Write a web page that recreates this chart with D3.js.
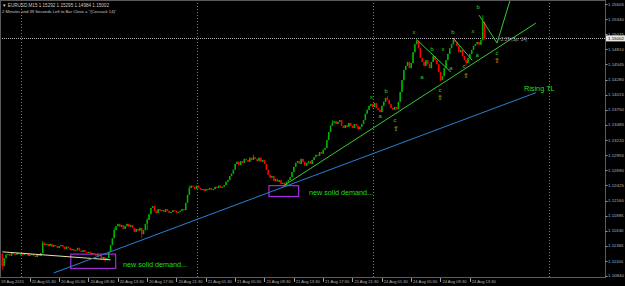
<!DOCTYPE html>
<html>
<head>
<meta charset="utf-8">
<script src="https://cdn.jsdelivr.net/npm/d3@7"></script>
<style>
  body { margin: 0; background: #000; }
  svg { display: block; }
  text { font-family: "Liberation Sans", Arial, sans-serif; }
</style>
</head>
<body>
<svg id="chart"></svg>
<script>
// EURUSD M15 closes, one per bar, bar 0 = 20 Aug 00:00
var firstBar = -10;
var firstOpen = 1.1122;
var closes = [
  1.1101, 1.1115, 1.1121, 1.1122, 1.1119, 1.1124, 1.1122, 1.1121, 1.1124, 1.1122,
  1.1122, 1.1121, 1.1124, 1.1122, 1.1119, 1.1121, 1.1122, 1.1119, 1.1117, 1.1121, 1.1119,
  1.1124, 1.1142, 1.1138, 1.1140,
  1.1136, 1.1140, 1.1135, 1.1138, 1.1136, 1.1133, 1.1136, 1.1138, 1.1135, 1.1131, 1.1135,
  1.1133, 1.1129, 1.1131, 1.1128, 1.1129, 1.1133, 1.1128, 1.1126, 1.1129, 1.1126, 1.1124,
  1.1126, 1.1122, 1.1124, 1.1121, 1.1119, 1.1122, 1.1119,
  1.1114, 1.1117, 1.1112, 1.1115, 1.1126,
  1.1138, 1.1150, 1.1164, 1.1171,
  1.1175, 1.1170, 1.1173, 1.1166, 1.1171, 1.1175, 1.1170, 1.1173, 1.1168, 1.1161,
  1.1166, 1.1163, 1.1168, 1.1157, 1.1164, 1.1175, 1.1182,
  1.1192, 1.1203, 1.1206, 1.1198, 1.1194, 1.1201, 1.1198,
  1.1199, 1.1196, 1.1201, 1.1198, 1.1194, 1.1196, 1.1199, 1.1198, 1.1194, 1.1196, 1.1198, 1.1201, 1.1199,
  1.1212, 1.1226, 1.1238, 1.1242,
  1.1240, 1.1236, 1.1242, 1.1238, 1.1235, 1.1236, 1.1233, 1.1236,
  1.1235, 1.1238, 1.1235, 1.1236, 1.1240, 1.1238, 1.1242, 1.1238, 1.1240, 1.1243,
  1.1249, 1.1252, 1.1259, 1.1263, 1.1270, 1.1280, 1.1284,
  1.1278, 1.1285, 1.1282, 1.1289, 1.1287, 1.1284, 1.1291, 1.1287, 1.1292, 1.1289,
  1.1285, 1.1291, 1.1284, 1.1287, 1.1280,
  1.1270, 1.1261, 1.1256, 1.1259, 1.1250, 1.1254,
  1.1249, 1.1252, 1.1245, 1.1247, 1.1243, 1.1249, 1.1252, 1.1257,
  1.1266, 1.1275, 1.1282, 1.1285,
  1.1280, 1.1289, 1.1284, 1.1277, 1.1282, 1.1285,
  1.1280, 1.1287, 1.1292, 1.1296, 1.1294,
  1.1301, 1.1298, 1.1305, 1.1308,
  1.1322, 1.1336, 1.1347, 1.1352,
  1.1355, 1.1350, 1.1354, 1.1357, 1.1347, 1.1343,
  1.1348, 1.1345, 1.1352, 1.1347, 1.1343, 1.1350, 1.1347, 1.1341, 1.1345, 1.1350,
  1.1357, 1.1368, 1.1375, 1.1382,
  1.1385, 1.1380, 1.1387, 1.1378, 1.1375, 1.1371,
  1.1382, 1.1389, 1.1396, 1.1392,
  1.1385, 1.1378, 1.1375, 1.1380, 1.1376,
  1.1389, 1.1406, 1.1427, 1.1445,
  1.1452, 1.1459, 1.1448, 1.1457,
  1.1476, 1.1490, 1.1496,
  1.1483, 1.1466, 1.1459,
  1.1452, 1.1462, 1.1455, 1.1448, 1.1459,
  1.1469, 1.1462, 1.1455,
  1.1441, 1.1427, 1.1434,
  1.1448, 1.1462, 1.1473, 1.1483,
  1.1490, 1.1497, 1.1494,
  1.1487, 1.1476, 1.1480, 1.1469, 1.1462,
  1.1457, 1.1466, 1.1473,
  1.1480, 1.1487, 1.1490, 1.1494, 1.1489,
  1.1497, 1.15292, 1.15002
];

// bars whose wicks stick out past the body
var wickBars  = [-10, 12, 46, 51, 66, 69, 92, 127, 144, 170, 200, 216, 229, 236, 243, 252, 253];
var wickHighs = [1.1124, 1.1145, 1.1117, 1.1168, 1.1166, 1.1185, 1.1242, 1.1296, 1.1247, 1.1357, 1.1399, 1.1499, 1.1434, 1.1499, 1.1457, 1.1541, 1.15295];
var wickLows  = [1.1094, 1.1124, 1.1108, 1.1150, 1.1150, 1.1164, 1.1226, 1.1289, 1.1240, 1.1347, 1.1392, 1.1490, 1.1425, 1.1494, 1.1452, 1.1497, 1.14984];

var priceTicks = [1.15605, 1.15340, 1.15075, 1.14810, 1.14545, 1.14280, 1.14015, 1.13750, 1.13485,
  1.13220, 1.12955, 1.12690, 1.12425, 1.12160, 1.11895, 1.11630, 1.11365, 1.11100];
var bottomPrice = 1.10840;
var bidPrice = 1.15002;

var firstTimeLabel = "19 Aug 2015";
var timeLabels = ["20 Aug 01:30", "20 Aug 05:30", "20 Aug 09:30", "20 Aug 13:30", "20 Aug 17:30",
  "20 Aug 21:30", "21 Aug 01:30", "21 Aug 05:30", "21 Aug 09:30", "21 Aug 13:30", "21 Aug 17:30",
  "21 Aug 21:30", "24 Aug 01:30", "24 Aug 05:30", "24 Aug 09:30", "24 Aug 13:30"];
var daySeparators = [0, 96, 192, 288];

// drawn objects: trend lines, zones, wave counts
var yellowTLBars = [-10, 49], yellowTLPrices = [1.1126, 1.1112];
var risingTLBars = [18, 281], risingTLPrices = [1.1089, 1.1405];
var greenTLBars = [143, 281], greenTLPrices = [1.1241, 1.1527];
var waveLines = [
  { bars: [216.3, 234.7], prices: [1.1497, 1.1441] },
  { bars: [235.8, 246.2], prices: [1.1501, 1.1462] },
  { bars: [250, 259.8, 267], prices: [1.1541, 1.1492, 1.1568] }
];
var zoneBars = [[27.3, 51.8], [135.4, 151.6]];
var zonePrices = [[1.1122, 1.1097], [1.1242, 1.1223]];
var zoneTexts = ["new solid demand...", "new solid demand..."];
var zoneTextBars = [55.8, 157.3], zoneTextPrices = [1.10995, 1.12257];

var waveLabels = ["x", "b", "a", "c", "x", "a", "b", "x", "c", "a", "b", "c", "x", "a", "b", "c"];
var waveLabelBars = [191.2, 199.3, 196, 204.2, 214.5, 218.9, 224.3, 230.4, 228.7, 234.7, 235.8, 241.8, 246.7, 249, 249.5, 259.8];
var waveLabelPrices = [1.13975, 1.1408, 1.13642, 1.13571, 1.15114, 1.14325, 1.14816, 1.14816, 1.14097, 1.14483, 1.15114, 1.14518, 1.15132, 1.14711, 1.15552, 1.14746];
var arrowBars = [204.7, 228.7, 242.9, 259.8];
var arrowPrices = [1.13414, 1.13957, 1.14343, 1.14606];

var W = 625, H = 286;
var plotW = 605, plotH = 277;

var svg = d3.select("#chart").attr("width", W).attr("height", H);
svg.append("rect").attr("width", W).attr("height", H).attr("fill", "#000");

var x = d3.scaleLinear().domain([-11.3, 318.7]).range([0, plotW]);
var y = d3.scaleLinear().domain([1.10819, 1.15675]).range([plotH, 0]);

var plot = svg.append("g");
plot.append("clipPath").attr("id", "clip")
  .append("rect").attr("width", plotW).attr("height", plotH);
var clipped = plot.append("g").attr("clip-path", "url(#clip)");

// day separators
clipped.selectAll(".sep").data(daySeparators).enter().append("line")
  .attr("x1", d => Math.round(x(d)) + 0.5).attr("x2", d => Math.round(x(d)) + 0.5)
  .attr("y1", 0).attr("y2", plotH)
  .attr("stroke", "#7a7a7a").attr("stroke-dasharray", "1,2");

// bid line
clipped.append("line")
  .attr("x1", 0).attr("x2", plotW)
  .attr("y1", Math.round(y(bidPrice)) + 0.5).attr("y2", Math.round(y(bidPrice)) + 0.5)
  .attr("stroke", "#b4b4b4").attr("stroke-dasharray", "1,1");

// zones
clipped.selectAll(".zone").data(zoneBars).enter().append("rect")
  .attr("x", d => x(d[0])).attr("width", d => x(d[1]) - x(d[0]))
  .attr("y", (d, i) => y(zonePrices[i][0]))
  .attr("height", (d, i) => y(zonePrices[i][1]) - y(zonePrices[i][0]))
  .attr("fill", "none").attr("stroke", "#a52ae0").attr("stroke-width", 1.2);

// candles
var bars = closes.map(function(c, i) {
  var o = i == 0 ? firstOpen : closes[i - 1];
  var b = firstBar + i;
  var hi = Math.max(o, c), lo = Math.min(o, c);
  var k = wickBars.indexOf(b);
  if (k >= 0) { hi = Math.max(hi, wickHighs[k]); lo = Math.min(lo, wickLows[k]); }
  return { bar: b, open: o, close: c, high: hi, low: lo };
});

var candles = clipped.selectAll(".candle").data(bars).enter().append("g");
candles.append("line")
  .attr("x1", d => x(d.bar)).attr("x2", d => x(d.bar))
  .attr("y1", d => y(d.high)).attr("y2", d => y(d.low))
  .attr("stroke", d => d.close >= d.open ? "#00b400" : "#ff0000")
  .attr("stroke-width", 0.8);
candles.append("rect")
  .attr("x", d => x(d.bar) - 0.75).attr("width", 1.5)
  .attr("y", d => y(Math.max(d.open, d.close)))
  .attr("height", d => Math.max(1, Math.abs(y(d.open) - y(d.close))))
  .attr("fill", d => d.close >= d.open ? "#00b400" : "#ff0000");

// trend lines
var line = d3.line().x(d => x(d[0])).y(d => y(d[1]));
clipped.append("path").datum(d3.zip(yellowTLBars, yellowTLPrices)).attr("d", line)
  .attr("fill", "none").attr("stroke", "#e6e2a6").attr("stroke-width", 1);
clipped.append("path").datum(d3.zip(risingTLBars, risingTLPrices)).attr("d", line)
  .attr("fill", "none").attr("stroke", "#2c7fd6").attr("stroke-width", 1);
clipped.append("path").datum(d3.zip(greenTLBars, greenTLPrices)).attr("d", line)
  .attr("fill", "none").attr("stroke", "#33cc33").attr("stroke-width", 1);
waveLines.forEach(function(w) {
  clipped.append("path").datum(d3.zip(w.bars, w.prices)).attr("d", line)
    .attr("fill", "none").attr("stroke", "#33cc33").attr("stroke-width", 1);
});

// annotations
clipped.selectAll(".zt").data(zoneTexts).enter().append("text")
  .attr("x", (d, i) => x(zoneTextBars[i])).attr("y", (d, i) => y(zoneTextPrices[i]))
  .attr("fill", "#22dd22").attr("font-size", 7.2).text(d => d);

clipped.append("text")
  .attr("x", x(274.5)).attr("y", y(1.1408))
  .attr("fill", "#22dd22").attr("font-size", 7.3).text("Rising TL");

clipped.selectAll(".wl").data(waveLabels).enter().append("text")
  .attr("x", (d, i) => x(waveLabelBars[i])).attr("y", (d, i) => y(waveLabelPrices[i]))
  .attr("dy", "0.35em").attr("text-anchor", "middle")
  .attr("fill", "#33cc33").attr("font-size", 6).text(d => d);

clipped.selectAll(".arr").data(arrowBars).enter().append("text")
  .attr("x", d => x(d)).attr("y", (d, i) => y(arrowPrices[i]))
  .attr("dy", "0.35em").attr("text-anchor", "middle")
  .style("font-family", "DejaVu Sans")
  .attr("fill", "#e8b400").attr("font-size", 7).text("\u21e7");

clipped.append("text")
  .attr("x", x(260.4)).attr("y", y(bidPrice) + 3)
  .attr("fill", "#9a9a9a").attr("font-size", 4.6).text("<2:39 (Sp: 14)");

// header
svg.append("text").attr("x", 2).attr("y", 6.5).attr("fill", "#c8c8c8").attr("font-size", 4.6)
  .text("\u25bc EURUSD,M15  1.15292 1.15295 1.14984 1.15002");
svg.append("text").attr("x", 2).attr("y", 12.5).attr("fill", "#c8c8c8").attr("font-size", 4.2)
  .text("2 Minutes and 39 Seconds Left to Bar Close = \"(Cossack 14)\"");

// frame
svg.append("rect").attr("x", 0.5).attr("y", 0.5).attr("width", plotW).attr("height", plotH)
  .attr("fill", "none").attr("stroke", "#5a5a5a");

// price axis
var yAxis = svg.append("g");
yAxis.selectAll(".pt").data(priceTicks.concat([bottomPrice])).enter().append("line")
  .attr("x1", plotW + 0.5).attr("x2", plotW + 2.5)
  .attr("y1", d => Math.round(y(d)) + 0.5).attr("y2", d => Math.round(y(d)) + 0.5)
  .attr("stroke", "#9a9a9a");
yAxis.selectAll(".pl").data(priceTicks.concat([bottomPrice])).enter().append("text")
  .attr("x", plotW + 3).attr("y", d => y(d)).attr("dy", "0.35em")
  .attr("fill", "#b4b4b4").attr("font-size", 4.4)
  .text(d => d3.format(".5f")(d));
yAxis.append("rect").attr("x", plotW + 1).attr("y", y(bidPrice) - 3).attr("width", 19).attr("height", 6)
  .attr("fill", "#e6e6e6");
yAxis.append("text").attr("x", plotW + 3).attr("y", y(bidPrice)).attr("dy", "0.35em")
  .attr("fill", "#000").attr("font-size", 4.4).text(d3.format(".5f")(bidPrice));

// time axis
var tAxis = svg.append("g");
var labelBars = timeLabels.map((d, i) => 6 + 16 * i);
tAxis.selectAll(".tt").data(labelBars).enter().append("line")
  .attr("x1", d => Math.round(x(d)) - 1.5).attr("x2", d => Math.round(x(d)) - 1.5)
  .attr("y1", plotH + 1).attr("y2", plotH + 5)
  .attr("stroke", "#9a9a9a");
tAxis.selectAll(".tl").data(timeLabels).enter().append("text")
  .attr("x", (d, i) => x(labelBars[i])).attr("y", plotH + 6)
  .attr("fill", "#b4b4b4").attr("font-size", 4.1).text(d => d);
tAxis.append("text").attr("x", 1).attr("y", plotH + 6)
  .attr("fill", "#b4b4b4").attr("font-size", 4.1).text(firstTimeLabel);
</script>
</body>
</html>
